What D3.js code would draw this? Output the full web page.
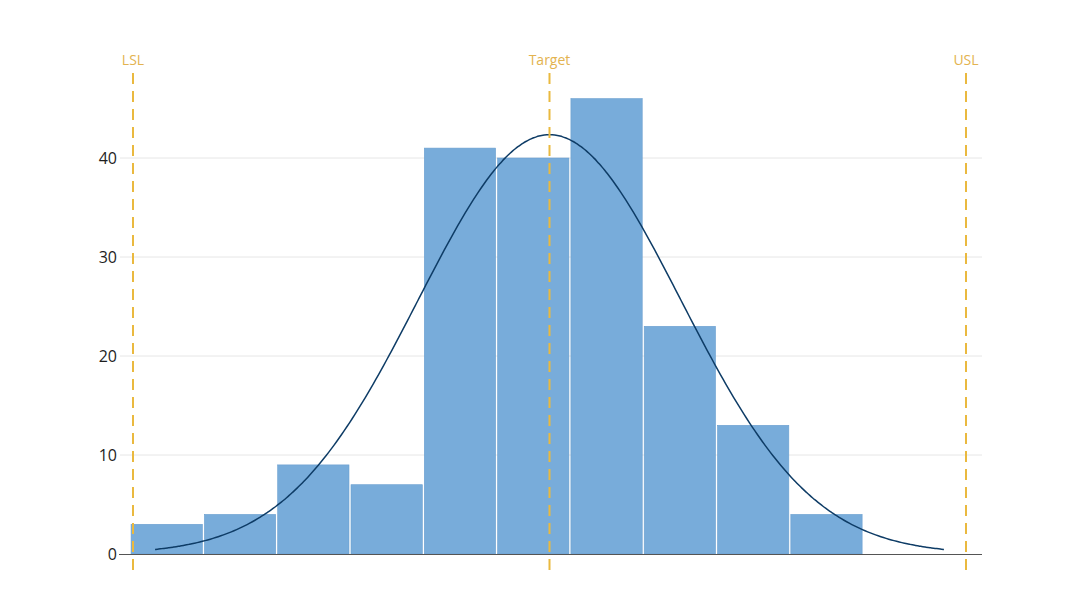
<!DOCTYPE html>
<html>
<head>
<meta charset="utf-8">
<script src="https://cdn.jsdelivr.net/npm/d3@7"></script>
<style>
  html, body { margin: 0; padding: 0; background: #fff; }
  svg { display: block; font-family: "Open Sans", "Noto Sans", sans-serif; }
</style>
</head>
<body>
<svg id="chart" width="1080" height="607"></svg>
<script>
// ---- data ----
const binStart = 9.93;      // left edge of first bin (measurement units)
const binWidth = 1.76;      // bin width
const counts = [3, 4, 9, 7, 41, 40, 46, 23, 13, 4];
const yTicks = [0, 10, 20, 30, 40];
const specNames = ["LSL", "Target", "USL"];
const specValues = [10, 20, 30];
// fitted normal curve parameters
const fitMean = 20;
const fitSigma = 3.15;
const fitRange = [10.53, 29.47];

// ---- layout ----
const svg = d3.select("#chart");
const plotRight = 982;

const x = d3.scaleLinear().domain([10, 30]).range([133, 966]);
const y = d3.scaleLinear().domain([0, 40]).range([554, 158]);

// gridlines
svg.append("g").selectAll("line").data(yTicks.filter(d => d !== 0)).join("line")
  .attr("x1", 120).attr("x2", plotRight)
  .attr("y1", d => y(d)).attr("y2", d => y(d))
  .attr("stroke", "#e6e6e6").attr("stroke-width", 1);

// y tick labels
svg.append("g").selectAll("text").data(yTicks).join("text")
  .attr("x", 117).attr("y", d => y(d)).attr("dy", "0.36em")
  .attr("text-anchor", "end").attr("font-size", 16).attr("fill", "#1e1e1e")
  .text(d => d);

// bars
const total = d3.sum(counts);
svg.append("g").selectAll("rect").data(counts).join("rect")
  .attr("x", (d, i) => x(binStart + i * binWidth) + 1)
  .attr("width", (d, i) => x(binStart + (i + 1) * binWidth) - x(binStart + i * binWidth) - 2)
  .attr("y", d => y(d))
  .attr("height", d => y(0) - y(d))
  .attr("fill", "#78acda")
  .attr("stroke", "#6a9fcf").attr("stroke-width", 0.6);

// zero line
svg.append("line")
  .attr("x1", 119).attr("x2", plotRight)
  .attr("y1", y(0) + 0.5).attr("y2", y(0) + 0.5)
  .attr("stroke", "#555").attr("stroke-width", 1.2);

// fitted normal curve
const pts = d3.range(0, 301).map(i => {
  const xv = fitRange[0] + (fitRange[1] - fitRange[0]) * i / 300;
  const dens = Math.exp(-0.5 * Math.pow((xv - fitMean) / fitSigma, 2)) / (fitSigma * Math.sqrt(2 * Math.PI));
  return [xv, dens * total * binWidth];
});
svg.append("path").datum(pts)
  .attr("d", d3.line().x(d => x(d[0])).y(d => y(d[1])).curve(d3.curveBasis))
  .attr("fill", "none").attr("stroke", "#0e3c66").attr("stroke-width", 1.5);

// spec lines
const spec = svg.append("g");
spec.selectAll("line").data(specValues).join("line")
  .attr("x1", d => x(d)).attr("x2", d => x(d))
  .attr("y1", 73).attr("y2", 577)
  .attr("stroke", "#eab93f").attr("stroke-width", 2)
  .attr("stroke-dasharray", "11,7");
spec.selectAll("text").data(specValues).join("text")
  .attr("x", d => x(d)).attr("y", 65)
  .attr("text-anchor", "middle").attr("font-size", 14).attr("fill", "#e3b34f")
  .text((d, i) => specNames[i]);
</script>
</body>
</html>
